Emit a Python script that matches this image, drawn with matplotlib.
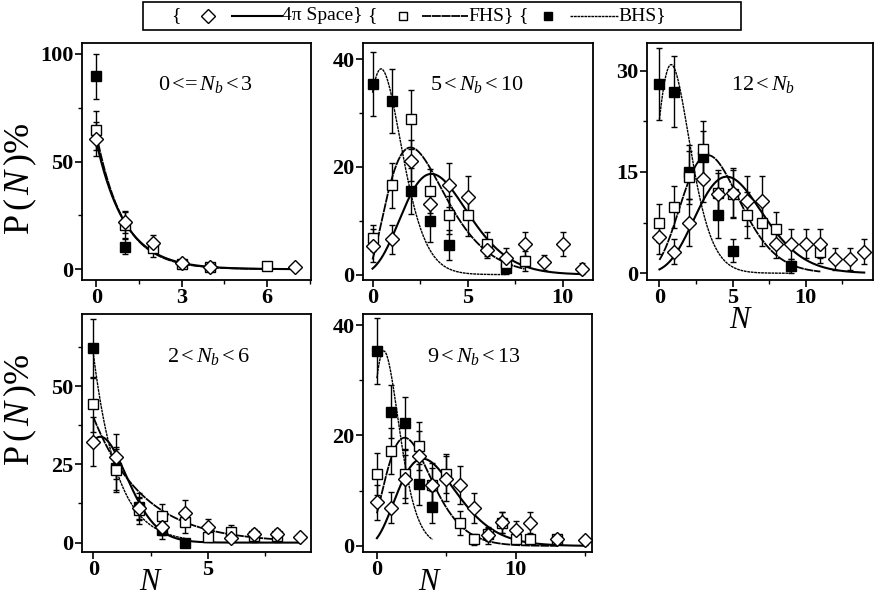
import numpy as np
import matplotlib.pyplot as plt
from matplotlib.lines import Line2D
from matplotlib.patches import Rectangle

plt.rcParams['font.family'] = ['Liberation Serif', 'DejaVu Serif']
plt.rcParams['mathtext.fontset'] = 'custom'
plt.rcParams['mathtext.rm'] = 'Liberation Serif'
plt.rcParams['mathtext.it'] = 'Liberation Serif:italic'

# ---- multiplicity distributions, one block per N_b window ----
# 0 <= N_b < 3
p1_n_4pi = [0, 1, 2, 3, 4, 7]
p1_4pi = [60.5, 22.0, 12.0, 2.8, 1.0, 1.0]
p1_4pi_err = [8.0, 5.0, 4.0, 1.5, 1.0, 0.8]
p1_n_fhs = [0, 1, 2, 3, 4, 6]
p1_fhs = [64.5, 20.5, 9.9, 2.3, 1.0, 1.3]
p1_fhs_err = [9.0, 6.0, 4.0, 1.5, 1.0, 0.8]
p1_n_bhs = [0, 1]
p1_bhs = [89.5, 10.5]
p1_bhs_err = [10.5, 3.5]

# 5 < N_b < 10
p2_n_4pi = [0, 1, 2, 3, 4, 5, 6, 7, 8, 9, 10, 11]
p2_4pi = [5.4, 6.6, 21.1, 13.2, 16.6, 14.5, 4.5, 3.1, 5.7, 2.3, 5.7, 1.1]
p2_4pi_err = [3.0, 2.7, 3.8, 2.6, 4.1, 3.9, 1.5, 1.8, 2.3, 1.4, 2.3, 1.0]
p2_n_fhs = [0, 1, 2, 3, 4, 5, 6, 7, 8]
p2_fhs = [6.8, 16.6, 28.8, 15.6, 11.1, 11.1, 5.7, 2.2, 2.5]
p2_fhs_err = [2.5, 4.2, 5.4, 4.1, 3.5, 4.0, 2.3, 1.5, 1.8]
p2_n_bhs = [0, 1, 2, 3, 4, 7]
p2_bhs = [35.4, 32.2, 15.5, 10.0, 5.5, 1.2]
p2_bhs_err = [6.0, 6.0, 4.3, 3.9, 2.7, 1.0]

# 12 < N_b
p3_n_4pi = [0, 1, 2, 3, 4, 5, 6, 7, 8, 9, 10, 11, 12, 13, 14]
p3_4pi = [5.4, 3.2, 7.5, 14.0, 11.8, 11.9, 10.7, 10.7, 4.3, 4.3, 4.4, 4.4, 2.1, 2.1, 3.2]
p3_4pi_err = [2.5, 1.8, 3.5, 3.5, 3.1, 3.7, 3.7, 3.7, 2.1, 2.2, 2.1, 2.1, 1.6, 1.6, 1.8]
p3_n_fhs = [0, 1, 2, 3, 4, 5, 6, 7, 8, 11]
p3_fhs = [7.5, 9.8, 14.2, 18.4, 11.9, 11.8, 8.6, 7.5, 6.5, 3.2]
p3_fhs_err = [2.8, 3.1, 3.9, 4.2, 3.4, 3.5, 3.4, 3.5, 2.6, 1.7]
p3_n_bhs = [0, 1, 2, 3, 4, 5, 9]
p3_bhs = [28.0, 26.9, 15.0, 17.2, 8.6, 3.3, 1.1]
p3_bhs_err = [5.3, 5.3, 4.0, 3.8, 3.4, 1.7, 1.0]

# 2 < N_b < 6
p4_n_4pi = [0, 1, 2, 3, 4, 5, 6, 7, 8, 9]
p4_4pi = [32.2, 27.4, 10.9, 5.0, 9.6, 5.0, 1.6, 2.9, 2.9, 1.8]
p4_4pi_err = [7.8, 7.2, 3.5, 2.5, 4.1, 2.6, 1.0, 1.6, 1.6, 1.0]
p4_n_fhs = [0, 1, 2, 3, 4, 5, 6, 7, 8]
p4_fhs = [44.2, 23.1, 10.3, 8.4, 6.6, 1.8, 3.4, 2.0, 2.0]
p4_fhs_err = [8.8, 6.8, 4.3, 3.9, 3.6, 1.2, 2.1, 1.9, 1.9]
p4_n_bhs = [0, 1, 2, 3, 4]
p4_bhs = [62.0, 23.7, 11.4, 3.9, 0.0]
p4_bhs_err = [9.5, 6.9, 4.3, 2.6, 0.0]

# 9 < N_b < 13
p5_n_4pi = [0, 1, 2, 3, 4, 5, 6, 7, 8, 9, 10, 11, 13, 15]
p5_4pi = [7.9, 6.9, 12.1, 16.2, 11.0, 12.2, 11.0, 6.9, 1.9, 4.3, 2.8, 4.2, 1.2, 1.0]
p5_4pi_err = [3.2, 2.8, 4.4, 4.7, 3.1, 4.0, 3.4, 2.7, 1.5, 1.9, 1.8, 1.9, 0.8, 0.8]
p5_n_fhs = [0, 1, 2, 3, 4, 5, 6, 7, 8, 9, 10, 11, 13]
p5_fhs = [13.0, 17.2, 13.0, 18.1, 11.1, 13.1, 4.2, 1.2, 2.1, 4.2, 1.2, 1.2, 1.2]
p5_fhs_err = [3.8, 4.1, 4.3, 4.4, 3.9, 3.6, 2.2, 1.0, 1.2, 1.9, 0.8, 0.8, 0.8]
p5_n_bhs = [0, 1, 2, 3, 4]
p5_bhs = [35.3, 24.3, 22.2, 11.2, 7.1]
p5_bhs_err = [5.9, 4.8, 4.7, 3.7, 2.9]

# ---- fitted curves ----
# ('exp', amp, tau)  or  ('peak', amp, x_peak, shift, shape)
p1_fit_4pi = ('exp', 59.5, 1.0)
p1_fit_fhs = ('exp', 63.0, 0.95)
p2_fit_4pi = ('peak', 18.7, 3.1, 2.0, 8.6)
p2_fit_fhs = ('peak', 23.6, 2.0, 0.5, 2.63)
p2_fit_bhs = ('peak', 38.2, 0.45, 2.0, 6.4)
p3_fit_4pi = ('peak', 14.3, 4.6, 4.0, 14.0)
p3_fit_fhs = ('peak', 17.5, 3.3, 3.0, 10.0)
p3_fit_bhs = ('peak', 30.9, 0.8, 2.0, 6.0)
p4_fit_4pi = ('peak', 33.8, 0.3, 5.0, 23.0)
p4_fit_fhs = ('exp', 40.0, 2.2)
p4_fit_bhs = ('exp', 60.0, 1.05)
p5_fit_4pi = ('peak', 15.8, 3.3, 1.5, 5.09)
p5_fit_fhs = ('peak', 19.6, 2.0, 1.5, 4.35)
p5_fit_bhs = ('peak', 35.3, 0.5, 2.0, 6.5)


def fit_curve(x, fit):
    if fit[0] == 'exp':
        _, amp, tau = fit
        return amp * np.exp(-x / tau)
    _, amp, xc, c, k = fit
    u = (x + c) / (xc + c)
    return amp * (u * np.exp(1.0 - u)) ** k


STYLE = {
    '4pi': dict(marker='D', ms=7.5, mfc='white', mec='k', mew=1.0),
    'fhs': dict(marker='s', ms=6.5, mfc='white', mec='k', mew=1.0),
    'bhs': dict(marker='s', ms=6.5, mfc='k', mec='k', mew=1.0),
}
LINE = {
    '4pi': dict(lw=1.5, ls='-'),
    'fhs': dict(lw=1.3, ls=(0, (5, 0.4))),
    'bhs': dict(lw=1.0, ls=(0, (2, 0.5))),
}


def draw_panel(ax, series, fits, xlim, ylim, xticks, yticks, label, label_xy):
    for key, (n, y, err) in series.items():
        if key in fits:
            xs = np.linspace(0, max(n), 300)
            ax.plot(xs, fit_curve(xs, fits[key]), color='k', zorder=2, **LINE[key])
    for key in ['bhs', 'fhs', '4pi']:
        if key not in series:
            continue
        n, y, err = series[key]
        ax.errorbar(n, y, yerr=err, ls='none', color='k', elinewidth=1.0,
                    capsize=2.5, capthick=1.0, zorder=3, **STYLE[key])
    ax.set_xlim(*xlim)
    ax.set_ylim(*ylim)
    ax.set_xticks(xticks)
    ax.set_yticks(yticks)
    dx = xticks[1] - xticks[0]
    dy = yticks[1] - yticks[0]
    ax.set_xticks(np.arange(xticks[0] + dx / 2, xlim[1], dx), minor=True)
    ax.set_yticks(np.arange(yticks[0] + dy / 2, ylim[1], dy), minor=True)
    ax.tick_params(which='major', direction='out', length=5, width=1.2,
                   labelsize=16, pad=1)
    ax.tick_params(which='minor', direction='out', length=3, width=1.0)
    for t in ax.get_xticklabels() + ax.get_yticklabels():
        t.set_fontweight('bold')
    for s in ax.spines.values():
        s.set_linewidth(1.3)
    ax.text(label_xy[0], label_xy[1], label, transform=ax.transAxes,
            fontsize=16, ha='left', va='baseline')


W, H = 875, 603
fig = plt.figure(figsize=(W / 100, H / 100), dpi=100)


def add_axes(left, top, right, bottom):
    return fig.add_axes([left / W, 1 - bottom / H, (right - left) / W, (bottom - top) / H])


ax1 = add_axes(82, 43, 311, 280)
ax2 = add_axes(363, 43, 593, 280)
ax3 = add_axes(647, 43, 873, 280)
ax4 = add_axes(82, 314, 311, 552)
ax5 = add_axes(363, 314, 592, 552)

draw_panel(ax1,
           {'4pi': (p1_n_4pi, p1_4pi, p1_4pi_err),
            'fhs': (p1_n_fhs, p1_fhs, p1_fhs_err),
            'bhs': (p1_n_bhs, p1_bhs, p1_bhs_err)},
           {'4pi': p1_fit_4pi, 'fhs': p1_fit_fhs},
           (-0.5, 7.55), (-5, 105), [0, 3, 6], [0, 50, 100],
           r'0$\,$<=$\,N_b\,$<$\,$3', (0.33, 0.80))
draw_panel(ax2,
           {'4pi': (p2_n_4pi, p2_4pi, p2_4pi_err),
            'fhs': (p2_n_fhs, p2_fhs, p2_fhs_err),
            'bhs': (p2_n_bhs, p2_bhs, p2_bhs_err)},
           {'4pi': p2_fit_4pi, 'fhs': p2_fit_fhs, 'bhs': p2_fit_bhs},
           (-0.5, 11.6), (-1, 43), [0, 5, 10], [0, 20, 40],
           r'5$\,$<$\,N_b\,$<$\,$10', (0.29, 0.80))
draw_panel(ax3,
           {'4pi': (p3_n_4pi, p3_4pi, p3_4pi_err),
            'fhs': (p3_n_fhs, p3_fhs, p3_fhs_err),
            'bhs': (p3_n_bhs, p3_bhs, p3_bhs_err)},
           {'4pi': p3_fit_4pi, 'fhs': p3_fit_fhs, 'bhs': p3_fit_bhs},
           (-0.85, 14.6), (-1, 34.1), [0, 5, 10], [0, 15, 30],
           r'12$\,$<$\,N_b$', (0.37, 0.80))
draw_panel(ax4,
           {'4pi': (p4_n_4pi, p4_4pi, p4_4pi_err),
            'fhs': (p4_n_fhs, p4_fhs, p4_fhs_err),
            'bhs': (p4_n_bhs, p4_bhs, p4_bhs_err)},
           {'4pi': p4_fit_4pi, 'fhs': p4_fit_fhs, 'bhs': p4_fit_bhs},
           (-0.5, 9.5), (-3, 73), [0, 5], [0, 25, 50],
           r'2$\,$<$\,N_b\,$<$\,$6', (0.37, 0.80))
draw_panel(ax5,
           {'4pi': (p5_n_4pi, p5_4pi, p5_4pi_err),
            'fhs': (p5_n_fhs, p5_fhs, p5_fhs_err),
            'bhs': (p5_n_bhs, p5_bhs, p5_bhs_err)},
           {'4pi': p5_fit_4pi, 'fhs': p5_fit_fhs, 'bhs': p5_fit_bhs},
           (-1.0, 15.5), (-1.1, 42), [0, 10], [0, 20, 40],
           r'9$\,$<$\,N_b\,$<$\,$13', (0.28, 0.80))

# axis titles
for x, y in [(20, 179), (20, 410)]:
    fig.text(x / W, 1 - y / H, r'P$\,$($\,N\,$)%', rotation=90,
             ha='center', va='center', fontsize=26)
for x, y in [(741, 321), (151, 583), (430, 583)]:
    fig.text(x / W, 1 - y / H, r'$N$', ha='center', va='center', fontsize=22)

# key box across the top
fig.add_artist(Rectangle((143 / W, 1 - 30 / H), (741 - 143) / W, 28 / H,
                         transform=fig.transFigure, fill=False, lw=1.2, ec='k'))
ky = 1 - 16 / H
key_items = [
    (176, 208, 'D', 'white', (232, 282), '4π Space}', LINE['4pi']),
    (372, 403, 's', 'white', (422, 468), 'FHS}', LINE['fhs']),
    (523, 548, 's', 'k', (570, 618), 'BHS}', LINE['bhs']),
]
for bx, mx, mk, fc, (l0, l1), txt, ls in key_items:
    fig.text(bx / W, ky, '{', ha='center', va='center', fontsize=14)
    fig.add_artist(Line2D([mx / W], [ky], marker=mk, ms=7 if mk == 'D' else 6,
                          mfc=fc, mec='k', mew=1.0, ls='none', transform=fig.transFigure))
    fig.add_artist(Line2D([l0 / W, l1 / W], [ky, ky], color='k', transform=fig.transFigure,
                          lw=ls['lw'], ls=ls['ls']))
    fig.text(l1 / W, ky, txt, ha='left', va='center', fontsize=14)

fig.savefig('out.png', dpi=100)
